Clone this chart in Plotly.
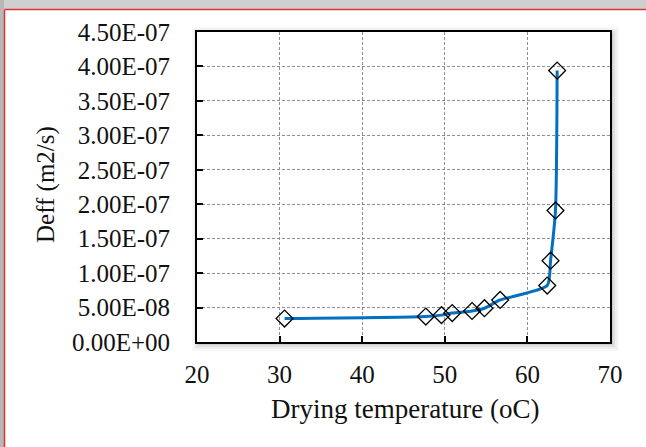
import plotly.graph_objects as go

# Effective diffusivity versus drying temperature
temperature = [30.6, 47.7, 49.6, 50.9, 53.3, 54.8, 56.7, 62.4, 62.8, 63.4, 63.6]
deff = [3.4e-08, 3.7e-08, 3.9e-08, 4.2e-08, 4.5e-08, 4.9e-08, 6.1e-08,
        8.2e-08, 1.18e-07, 1.91e-07, 3.94e-07]

y_ticks = [i * 5e-08 for i in range(10)]
y_tick_text = ["0.00E+00", "5.00E-08", "1.00E-07", "1.50E-07", "2.00E-07",
               "2.50E-07", "3.00E-07", "3.50E-07", "4.00E-07", "4.50E-07"]
x_ticks = [20, 30, 40, 50, 60, 70]

W, H = 646, 447
L, R, T, B = 197, 36, 32, 105
PW, PH = W - L - R, H - T - B
FONT = "Liberation Serif"
INK = "#111111"


def px_x(px):
    return (px - L) / PW


def px_y(py):
    return (H - B - py) / PH


fig = go.Figure()
fig.add_trace(go.Scatter(
    x=temperature, y=deff, mode="lines+markers",
    line=dict(color="#0070C0", width=3, shape="spline", smoothing=0.6),
    marker=dict(symbol="diamond-open", size=13, color="black",
                line=dict(color="black", width=1.3)),
    showlegend=False,
))

shapes = []
# window frame: grey strips and red outline
shapes.append(dict(type="rect", xref="paper", yref="paper",
                   x0=px_x(-5), x1=px_x(W + 5), y0=px_y(9), y1=px_y(-5),
                   fillcolor="#cfcfcf", line_width=0, layer="below"))
shapes.append(dict(type="rect", xref="paper", yref="paper",
                   x0=px_x(-5), x1=px_x(4), y0=px_y(H + 5), y1=px_y(0),
                   fillcolor="#b8b8b8", line_width=0, layer="below"))
shapes.append(dict(type="line", xref="paper", yref="paper",
                   x0=px_x(4.5), x1=px_x(W + 5), y0=px_y(9.5), y1=px_y(9.5),
                   line=dict(color="#e03030", width=1.5), layer="below"))
shapes.append(dict(type="line", xref="paper", yref="paper",
                   x0=px_x(4.5), x1=px_x(4.5), y0=px_y(9.5), y1=px_y(H + 5),
                   line=dict(color="#e03030", width=1.5), layer="below"))
# soft shadow around the plot area
for off, col in [(9, "rgba(0,0,0,0.03)"), (7, "rgba(0,0,0,0.04)"),
                 (5, "rgba(0,0,0,0.06)"), (3, "rgba(0,0,0,0.08)")]:
    shapes.append(dict(type="rect", xref="paper", yref="paper",
                       x0=px_x(L - off + 4), x1=px_x(L + PW + off),
                       y0=px_y(T + PH + off), y1=px_y(T - off + 4),
                       fillcolor=col, line_width=0, layer="below"))
shapes.append(dict(type="rect", xref="paper", yref="paper",
                   x0=0, x1=1, y0=0, y1=1,
                   fillcolor="white", line_width=0, layer="below"))

fig.update_layout(
    width=W, height=H,
    margin=dict(l=L, r=R, t=T, b=B),
    paper_bgcolor="white",
    plot_bgcolor="rgba(0,0,0,0)",
    font=dict(family=FONT, color=INK),
    shapes=shapes,
    annotations=[
        dict(text="Drying temperature (oC)", xref="paper", yref="paper",
             x=px_x(405), y=px_y(409), xanchor="center", yanchor="middle",
             showarrow=False, font=dict(family=FONT, size=27, color=INK)),
        dict(text="Deff (m2/s)", xref="paper", yref="paper",
             x=px_x(46), y=px_y(185), xanchor="center", yanchor="middle",
             showarrow=False, textangle=-90,
             font=dict(family=FONT, size=25, color=INK)),
    ],
)
fig.update_xaxes(
    range=[20, 70], tickvals=x_ticks, ticks="inside", ticklen=6,
    tickcolor="black", tickwidth=1.5,
    showgrid=True, gridcolor="#8f8f8f", griddash="3px,2px", gridwidth=1,
    showline=True, linecolor="black", linewidth=2, mirror=True,
    zeroline=False, ticklabelstandoff=9,
    tickfont=dict(family=FONT, size=25, color=INK),
)
fig.update_yaxes(
    range=[0, 4.5e-07], tickvals=y_ticks, ticktext=y_tick_text,
    ticks="inside", ticklen=6, tickcolor="black", tickwidth=1.5,
    showgrid=True, gridcolor="#8f8f8f", griddash="3px,2px", gridwidth=1,
    showline=True, linecolor="black", linewidth=2, mirror=True,
    zeroline=False, ticklabelstandoff=20,
    tickfont=dict(family=FONT, size=25, color=INK),
)

fig.write_html("out.html")
